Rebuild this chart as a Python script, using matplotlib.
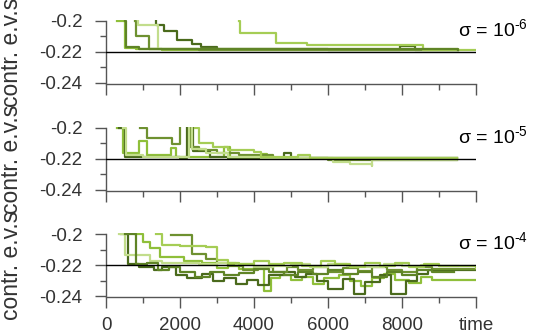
import matplotlib
matplotlib.use('Agg')
import matplotlib.pyplot as plt
from matplotlib.ticker import MultipleLocator

plt.rcParams['font.family'] = ['Liberation Sans', 'DejaVu Sans']
plt.rcParams['mathtext.fontset'] = 'custom'
plt.rcParams['mathtext.rm'] = 'Liberation Sans'
plt.rcParams['axes.unicode_minus'] = False

# sigma labels per panel
sigma_labels = ['-6', '-5', '-4']
ref_value = -0.22
line_colors = ['#8fbf3a', '#4a6a1c', '#6e9130', '#c2dd8c', '#a5cd55', '#5f8426']

# ---- sigma = 1e-6 : (times, values) per run, step functions ----
s6_t1 = [300, 510, 800, 1500, 3000, 9500]
s6_v1 = [-0.2, -0.2175, -0.2182, -0.2185, -0.2188, -0.2188]
s6_t2 = [1340, 1345, 1570, 1920, 2320, 2560, 3000, 4500, 6000, 7950, 8350, 9500]
s6_v2 = [-0.2, -0.2025, -0.2063, -0.2123, -0.215, -0.2166, -0.2178, -0.2182, -0.2185, -0.2163, -0.2185, -0.2185]
s6_t3 = [780, 800, 1160, 2500, 9500]
s6_v3 = [-0.2, -0.21, -0.2183, -0.2187, -0.2188]
s6_t4 = [860, 870, 1400, 9500]
s6_v4 = [-0.2, -0.2025, -0.2182, -0.219]
s6_t5 = [3600, 3620, 4590, 5420, 8560, 10000]
s6_v5 = [-0.2, -0.208, -0.2144, -0.2155, -0.2185, -0.219]
s6_t6 = [520, 540, 900, 9500]
s6_v6 = [-0.2, -0.2165, -0.2183, -0.2187]

# ---- sigma = 1e-5 ----
s5_t1 = [300, 450, 890, 1110, 1750, 1880, 3200, 3350, 4200, 4350, 9480]
s5_v1 = [-0.2, -0.2165, -0.2085, -0.2175, -0.2127, -0.2185, -0.2125, -0.2185, -0.217, -0.2192, -0.2192]
s5_t2 = [350, 500, 2000, 2200, 2350, 2800, 3300, 4800, 5000, 9480]
s5_v2 = [-0.2, -0.2185, -0.2195, -0.19, -0.215, -0.2185, -0.2195, -0.2165, -0.2195, -0.2197]
s5_t3 = [930, 1100, 1775, 2000, 2280, 2500, 3000, 3600, 4500, 6000, 9480]
s5_v3 = [-0.2, -0.2064, -0.2106, -0.19, -0.2125, -0.2145, -0.2165, -0.2175, -0.2195, -0.2205, -0.2205]
s5_t4 = [450, 550, 1000, 2250, 2330, 2700, 3300, 4200, 6140, 6600, 7180, 7200, 9480]
s5_v4 = [-0.2, -0.2175, -0.219, -0.19, -0.2135, -0.2165, -0.2185, -0.2195, -0.2222, -0.223, -0.2243, -0.2205, -0.2203]
s5_t5 = [2400, 2500, 2900, 3300, 4000, 4200, 5200, 5500, 9480]
s5_v5 = [-0.2, -0.2095, -0.2125, -0.214, -0.2155, -0.2185, -0.2175, -0.2195, -0.2195]

# ---- sigma = 1e-4 ----
s4_t1 = [780, 1000, 1200, 1450, 1700, 2100, 2600, 3000, 3300, 3600, 4000, 4270, 4450, 4700, 5000,
         5300, 5600, 5900, 6300, 6600, 6900, 7200, 7500, 7800, 8200, 8500, 8800, 10000]
s4_v1 = [-0.2, -0.205, -0.209, -0.2147, -0.2147, -0.2177, -0.2185, -0.222, -0.2195, -0.2225, -0.221,
         -0.237, -0.2285, -0.2265, -0.2295, -0.2275, -0.232, -0.2285, -0.2265, -0.23, -0.2335, -0.2285,
         -0.226, -0.2295, -0.2315, -0.228, -0.2298, -0.2298]
s4_t2 = [400, 600, 900, 1300, 1500, 1900, 2200, 2600, 2900, 3200, 3500, 3800, 4100, 4400, 4800,
         5100, 5400, 5700, 6000, 6400, 6700, 7000, 7400, 7700, 8100, 8400, 8700, 10000]
s4_v2 = [-0.2, -0.2195, -0.221, -0.2235, -0.2215, -0.2265, -0.2285, -0.2255, -0.23, -0.2285, -0.2325,
         -0.2295, -0.233, -0.2265, -0.2245, -0.2275, -0.2255, -0.2305, -0.2355, -0.229, -0.2385, -0.231,
         -0.2265, -0.2385, -0.2305, -0.2255, -0.2235, -0.2235]
s4_t3 = [1750, 2320, 2700, 3000, 3300, 3700, 4100, 4500, 4900, 5200, 5600, 6000, 6400, 6800, 7200,
         7600, 8000, 8400, 8800, 10000]
s4_v3 = [-0.2009, -0.2127, -0.216, -0.2185, -0.2205, -0.2235, -0.2215, -0.2245, -0.2215, -0.2235,
         -0.221, -0.2245, -0.222, -0.224, -0.2215, -0.223, -0.2245, -0.2215, -0.2225, -0.2225]
s4_t4 = [350, 520, 700, 1200, 1500, 1900, 2500, 3000, 3500, 4000, 4500, 5000, 5500, 6000, 6500,
         7000, 7500, 8000, 8500, 9000, 9500]
s4_v4 = [-0.2, -0.2135, -0.2135, -0.2175, -0.2185, -0.219, -0.2195, -0.2185, -0.2195, -0.2215, -0.2205,
         -0.2195, -0.221, -0.2195, -0.2205, -0.2215, -0.2195, -0.2205, -0.22, -0.2205, -0.2205]
s4_t5 = [1340, 1500, 2000, 2700, 3000, 3300, 3600, 4000, 4400, 4800, 5300, 5800, 6200, 6600, 7000,
         7400, 7800, 8200, 8600, 9000, 10000]
s4_v5 = [-0.2, -0.207, -0.2075, -0.2085, -0.2165, -0.2185, -0.2195, -0.2175, -0.2195, -0.2185, -0.2205,
         -0.2175, -0.2195, -0.221, -0.2185, -0.2205, -0.219, -0.2215, -0.2195, -0.2205, -0.2218]
s4_t6 = [500, 800, 1100, 1400, 1700, 2000, 2400, 2800, 3200, 3600, 4000, 4400, 4800, 5200, 5600,
         6000, 6400, 6800, 7200, 7600, 8000, 8400, 8800, 9400]
s4_v6 = [-0.2, -0.2195, -0.2185, -0.2235, -0.2215, -0.2245, -0.2275, -0.2245, -0.2265, -0.225, -0.2225,
         -0.2245, -0.2265, -0.2245, -0.226, -0.2235, -0.2255, -0.2245, -0.2275, -0.2245, -0.2265, -0.2235,
         -0.2245, -0.2245]

panels = [
    [(s6_t1, s6_v1), (s6_t2, s6_v2), (s6_t3, s6_v3), (s6_t4, s6_v4), (s6_t5, s6_v5), (s6_t6, s6_v6)],
    [(s5_t1, s5_v1), (s5_t2, s5_v2), (s5_t3, s5_v3), (s5_t4, s5_v4), (s5_t5, s5_v5)],
    [(s4_t1, s4_v1), (s4_t2, s4_v2), (s4_t3, s4_v3), (s4_t4, s4_v4), (s4_t5, s4_v5), (s4_t6, s4_v6)],
]

fig = plt.figure(figsize=(5.36, 3.35), dpi=100)
bottoms = [0.749, 0.430, 0.113]
grey = '#555555'
text_col = '#333333'

for i, runs in enumerate(panels):
    ax = fig.add_axes([0.1978, bottoms[i], 0.6903, 0.1907])
    for k, (t, v) in enumerate(runs):
        ax.plot(t, v, drawstyle='steps-post', color=line_colors[k % len(line_colors)], lw=1.6)
    ax.plot([0, 10000], [ref_value, ref_value], color='black', lw=1.0, zorder=5)

    ax.set_xlim(0, 10000)
    ax.set_ylim(-0.2407, -0.1995)
    for s in ['top', 'right']:
        ax.spines[s].set_visible(False)
    ax.spines['left'].set_bounds(-0.24, -0.2)
    ax.spines['bottom'].set_bounds(0, 10000)
    for s in ['left', 'bottom']:
        ax.spines[s].set_color(grey)
        ax.spines[s].set_linewidth(1.0)

    ax.set_yticks([-0.24, -0.22, -0.2])
    ax.set_yticklabels(['-0.24', '-0.22', '-0.2'])
    ax.yaxis.set_minor_locator(MultipleLocator(0.01))
    ax.set_xticks([0, 2000, 4000, 6000, 8000, 10000])
    ax.xaxis.set_minor_locator(MultipleLocator(1000))
    if i == 2:
        ax.set_xticklabels(['0', '2000', '4000', '6000', '8000', 'time'])
    else:
        ax.set_xticklabels([])

    ax.tick_params(which='major', direction='out', length=8, width=1.0, color=grey,
                   labelcolor=text_col, labelsize=13.5)
    ax.tick_params(axis='y', which='major', pad=9)
    ax.tick_params(axis='x', which='major', pad=6)
    ax.tick_params(which='minor', direction='out', length=4, width=1.0, color=grey)

    # label is longer than the panel, so the three run into each other like the original
    ax.set_ylabel('contr. e.v.s', fontsize=16.5, color=text_col)
    ax.yaxis.set_label_coords(-0.225, 0.5)

    ax.text(9514, -0.2105, 'σ = 10$^{\\text{%s}}$' % sigma_labels[i],
            fontsize=14, color='black', va='baseline', ha='left', clip_on=False)

fig.savefig('out.png', dpi=100)
